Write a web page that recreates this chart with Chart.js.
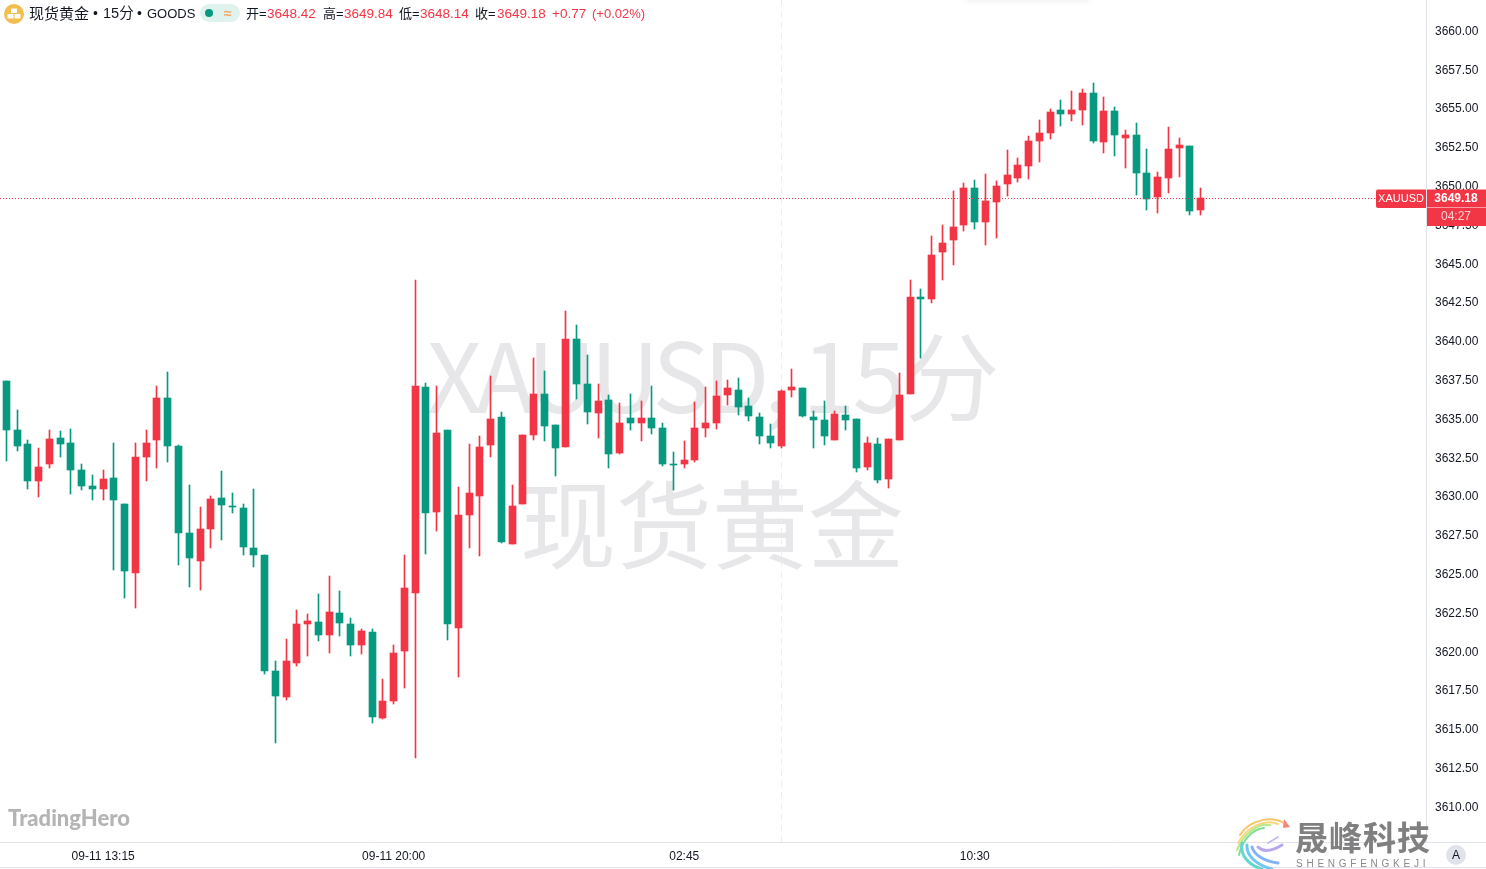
<!DOCTYPE html>
<html>
<head>
<meta charset="utf-8">
<title>XAUUSD 15分</title>
<script src="https://cdn.jsdelivr.net/npm/chart.js@4/dist/chart.umd.min.js"></script>
<style>
    html, body { margin: 0; padding: 0; background: #fff; overflow: hidden; }
    #stage { position: relative; width: 1486px; height: 869px; overflow: hidden;
        font-family: "Liberation Sans", "Noto Sans CJK SC", sans-serif; color: #131722; }
    #stage canvas { position: absolute; left: 0; top: 0; z-index: 1; }
    .t { position: absolute; white-space: nowrap; z-index: 2; }
    .head { top: 5px; font-size: 14px; line-height: 17px; }
    .val { color: #f23645; font-size: 13.5px; }
    .key { font-size: 13px; }
    .mark { position: absolute; white-space: nowrap; z-index: 0; color: #e7e7e9;
        font-family: "Noto Sans CJK SC", sans-serif; font-size: 96px; line-height: 110px; }
</style>
</head>
<body>
<div id="stage">
    <div class="mark" style="left:427px;top:317px"><span style="letter-spacing:-6px">XAUUSD,</span><span style="position:absolute;left:375px;letter-spacing:-2.5px">15分</span></div>
    <div class="mark" style="left:520px;top:465px">现货黄金</div>
    <div class="t" style="left:965px;top:-6px;width:125px;height:6px;box-shadow:0 1px 6px rgba(0,0,0,0.07)"></div>

    <svg class="t" style="left:4px;top:4px" width="20" height="20" viewBox="0 0 20 20">
        <circle cx="10" cy="10" r="10" fill="#f2be4e"/>
        <rect x="7" y="4.5" width="6" height="4.5" fill="#fff"/>
        <rect x="3.5" y="10" width="6" height="4.5" fill="#fff"/>
        <rect x="10.5" y="10" width="6" height="4.5" fill="#fff"/>
    </svg>
    <span class="t head" style="left:29px;font-size:15px">现货黄金</span>
    <span class="t head" style="left:93px">•</span>
    <span class="t head" style="left:103px;font-size:14.5px">15分</span>
    <span class="t head" style="left:137px">•</span>
    <span class="t head" style="left:147px;font-size:13px">GOODS</span>
    <div class="t" style="left:200px;top:4px;width:40px;height:18px;border-radius:9px;background:#dff2ee"></div>
    <div class="t" style="left:205px;top:9px;width:8px;height:8px;border-radius:4px;background:#089981"></div>
    <span class="t" style="left:224px;top:5px;font-size:14px;line-height:16px;color:#f7a35c;font-weight:bold">≈</span>

    <span class="t head key" style="left:246px">开=</span><span class="t head val" style="left:267px">3648.42</span>
    <span class="t head key" style="left:323px">高=</span><span class="t head val" style="left:344px">3649.84</span>
    <span class="t head key" style="left:399px">低=</span><span class="t head val" style="left:420px">3648.14</span>
    <span class="t head key" style="left:475px">收=</span><span class="t head val" style="left:497px">3649.18</span>
    <span class="t head val" style="left:552px">+0.77</span>
    <span class="t head val" style="left:592px;font-size:13px">(+0.02%)</span>

    <span class="t" style="left:8px;top:804px;font-family:Lato,sans-serif;font-weight:900;font-size:22px;line-height:28px;color:#b4b4b4">TradingHero</span>

    <svg class="t" style="left:1234px;top:817px" width="56" height="52" viewBox="0 0 56 52" fill="none" stroke-linecap="round">
        <path d="M50 6 C38 -1 16 2 6 18" stroke="#f7c66b" stroke-width="2"/>
        <path d="M44 7 C32 2 14 8 4 26" stroke="#f9d77e" stroke-width="2"/>
        <path d="M36 8 C24 6 10 16 3 33" stroke="#b8e986" stroke-width="2"/>
        <path d="M30 11 C18 12 8 24 5 38" stroke="#7fdc9a" stroke-width="2"/>
        <path d="M8 26 C6 38 14 48 28 52" stroke="#67d6d0" stroke-width="3"/>
        <path d="M13 28 C12 38 22 48 38 52" stroke="#70c6f2" stroke-width="3"/>
        <path d="M18 30 C20 38 30 44 44 46" stroke="#7fb4f5" stroke-width="3"/>
        <path d="M24 30 C30 36 38 34 48 28" stroke="#b7a7f0" stroke-width="3"/>
        <path d="M34 26 L44 20" stroke="#c9b7f5" stroke-width="2"/>
        <path d="M50 2 L56 10 L49 11 Z" fill="#f7837a" stroke="none"/>
    </svg>
    <span class="t" style="left:1295px;top:815px;font-family:'Noto Sans CJK SC',sans-serif;font-weight:700;font-size:33px;line-height:42px;letter-spacing:1px;color:#808080">晟峰科技</span>
    <span class="t" style="left:1296px;top:858px;font-size:10px;line-height:12px;letter-spacing:3.75px;color:#8a8a8a">SHENGFENGKEJI</span>

    <div class="t" style="left:1446px;top:845px;width:20px;height:20px;border-radius:10px;background:#e0e3eb;text-align:center;font-size:12px;line-height:20px">A</div>

    <canvas id="goldChart" width="1486" height="869"></canvas>
</div>

<script>
// Candles, left to right
const opens = [
    3637.42, 3634.26, 3633.36, 3630.97, 3632.07, 3633.74, 3633.42, 3631.68, 3630.65, 3630.46,
    3631.17, 3629.49, 3625.05, 3632.52, 3633.61, 3636.32, 3633.23, 3627.62, 3625.82, 3627.88,
    3629.88, 3629.36, 3629.23, 3626.66, 3626.21, 3618.73, 3617.06, 3619.25, 3621.76, 3621.89,
    3621.05, 3622.47, 3621.76, 3620.41, 3621.24, 3615.70, 3616.80, 3620.02, 3623.76, 3637.03,
    3628.98, 3634.26, 3621.50, 3628.78, 3630.01, 3633.29, 3635.10, 3626.91, 3629.49, 3633.94,
    3636.58, 3634.58, 3633.16, 3640.12, 3637.22, 3635.35, 3636.19, 3632.78, 3635.03, 3634.71,
    3635.03, 3634.39, 3632.07, 3632.07, 3632.33, 3634.39, 3634.71, 3636.51, 3636.84, 3635.80,
    3635.10, 3633.87, 3633.23, 3636.84, 3636.96, 3635.10, 3634.90, 3633.61, 3635.23, 3634.97,
    3631.87, 3633.36, 3631.10, 3633.61, 3636.58, 3642.83, 3642.70, 3645.73, 3646.50, 3647.47,
    3649.85, 3647.66, 3648.95, 3650.11, 3650.50, 3651.27, 3652.88, 3653.40, 3654.88, 3654.62,
    3654.88, 3655.97, 3652.82, 3654.81, 3653.07, 3653.27, 3650.82, 3649.27, 3650.50, 3652.43,
    3652.56, 3648.42
];
const highs = [
    3637.42, 3635.55, 3633.61, 3633.10, 3634.26, 3634.19, 3634.32, 3632.07, 3631.36, 3631.68,
    3633.42, 3629.49, 3633.42, 3634.26, 3637.09, 3638.00, 3633.29, 3630.72, 3629.30, 3630.01,
    3631.62, 3630.20, 3629.49, 3630.46, 3626.21, 3619.37, 3620.79, 3622.66, 3622.40, 3623.69,
    3624.85, 3623.89, 3622.15, 3621.44, 3621.44, 3618.22, 3620.41, 3626.21, 3643.92, 3637.29,
    3637.09, 3634.26, 3630.59, 3633.36, 3633.87, 3637.74, 3635.42, 3630.72, 3633.94, 3638.90,
    3638.06, 3634.58, 3641.93, 3641.02, 3639.09, 3637.22, 3636.51, 3636.00, 3636.58, 3636.13,
    3637.09, 3634.71, 3632.84, 3633.55, 3636.06, 3637.03, 3637.42, 3637.48, 3637.61, 3636.32,
    3635.35, 3634.65, 3636.84, 3638.19, 3636.96, 3635.48, 3636.13, 3635.48, 3635.80, 3634.97,
    3633.81, 3633.74, 3633.68, 3637.93, 3643.92, 3643.34, 3646.76, 3647.47, 3649.66, 3650.17,
    3650.37, 3650.75, 3650.30, 3652.30, 3651.78, 3653.20, 3654.23, 3654.94, 3655.52, 3656.10,
    3656.23, 3656.62, 3655.72, 3655.07, 3653.59, 3654.04, 3652.36, 3650.88, 3653.78, 3653.07,
    3652.56, 3649.84
];
const lows = [
    3632.26, 3632.91, 3630.46, 3629.94, 3631.81, 3632.52, 3630.13, 3630.39, 3629.75, 3629.75,
    3625.24, 3623.43, 3622.79, 3630.97, 3631.81, 3632.20, 3625.56, 3624.14, 3623.95, 3626.66,
    3627.17, 3628.91, 3626.21, 3625.43, 3618.54, 3614.09, 3616.86, 3619.05, 3619.70, 3620.66,
    3619.89, 3620.99, 3619.70, 3619.83, 3615.38, 3615.64, 3616.60, 3617.64, 3613.13, 3626.27,
    3627.75, 3620.73, 3618.34, 3626.66, 3626.14, 3632.52, 3626.98, 3626.91, 3629.49, 3633.61,
    3633.55, 3631.30, 3633.16, 3636.26, 3634.65, 3633.74, 3631.81, 3632.71, 3634.26, 3633.55,
    3634.00, 3631.94, 3630.39, 3631.81, 3632.20, 3633.81, 3634.32, 3635.87, 3635.23, 3634.84,
    3633.36, 3633.10, 3633.10, 3636.39, 3635.10, 3633.10, 3633.29, 3633.61, 3634.26, 3631.55,
    3631.68, 3630.84, 3630.52, 3633.61, 3636.58, 3638.90, 3642.44, 3643.92, 3644.89, 3647.08,
    3647.21, 3646.18, 3646.63, 3649.34, 3650.24, 3650.43, 3651.53, 3653.01, 3653.85, 3654.17,
    3653.91, 3652.75, 3652.11, 3651.91, 3651.14, 3649.40, 3648.43, 3648.24, 3649.53, 3650.56,
    3648.11, 3648.14
];
const closes = [
    3634.26, 3633.23, 3630.97, 3631.87, 3633.68, 3633.36, 3631.68, 3630.65, 3630.46, 3631.10,
    3629.75, 3625.17, 3632.52, 3633.42, 3636.32, 3633.23, 3627.62, 3626.01, 3627.88, 3629.81,
    3629.43, 3629.30, 3626.72, 3626.21, 3618.73, 3617.12, 3619.37, 3621.76, 3621.95, 3621.05,
    3622.53, 3621.82, 3620.41, 3621.31, 3615.77, 3616.80, 3619.89, 3624.08, 3637.09, 3628.91,
    3634.07, 3621.76, 3628.78, 3630.20, 3633.16, 3634.97, 3627.04, 3629.36, 3633.94, 3636.58,
    3634.52, 3633.10, 3640.12, 3637.22, 3635.42, 3636.13, 3632.71, 3634.71, 3634.71, 3635.03,
    3634.39, 3632.07, 3632.00, 3632.33, 3634.39, 3634.71, 3636.45, 3636.96, 3635.74, 3635.16,
    3633.87, 3633.42, 3636.77, 3637.03, 3635.16, 3634.90, 3633.87, 3635.29, 3634.90, 3631.81,
    3633.42, 3631.04, 3633.68, 3636.51, 3642.83, 3642.70, 3645.53, 3646.31, 3647.34, 3649.85,
    3647.66, 3649.01, 3649.98, 3650.69, 3651.33, 3652.88, 3653.40, 3654.75, 3654.62, 3654.88,
    3655.97, 3652.88, 3654.81, 3653.27, 3653.27, 3650.82, 3649.14, 3650.56, 3652.36, 3652.62,
    3648.37, 3649.18
];

const priceTicks = [
    3610, 3612.5, 3615, 3617.5, 3620, 3622.5, 3625, 3627.5, 3630, 3632.5, 3635,
    3637.5, 3640, 3642.5, 3645, 3647.5, 3650, 3652.5, 3655, 3657.5, 3660
];
const timeTicks = [9, 36, 63, 90];
const timeLabels = ['09-11 13:15', '09-11 20:00', '02:45', '10:30'];
const sessionBreak = 72;

const UP = '#f23645';
const DOWN = '#089981';
const LINE = '#e0e3eb';
const TEXT = '#131722';
const FONT = '"Liberation Sans", sans-serif';

const wicks = highs.map((h, i) => ({ x: i, y: [lows[i], h] }));
const bodies = opens.map((o, i) => ({ x: i, y: [o, closes[i]] }));
const colors = opens.map((o, i) => (closes[i] >= o ? UP : DOWN));

// Line bars up with the pixel grid so wicks stay one crisp pixel wide
const snapBars = {
    id: 'snapBars',
    afterDatasetsUpdate(chart) {
        chart.data.datasets.forEach((ds, i) => {
            chart.getDatasetMeta(i).data.forEach(bar => {
                bar.x = Math.floor(bar.x) + 0.5;
                bar.y = Math.round(bar.y);
                bar.base = Math.round(bar.base);
            });
        });
    }
};

// Session break, last price line, axis frame and price tags
const overlays = {
    id: 'overlays',
    beforeDatasetsDraw(chart) {
        const ctx = chart.ctx;
        const x = Math.floor(chart.scales.x.getPixelForValue(sessionBreak)) + 0.5;
        ctx.save();
        ctx.strokeStyle = '#eceef2';
        ctx.setLineDash([6, 5]);
        ctx.beginPath();
        ctx.moveTo(x, 0);
        ctx.lineTo(x, chart.chartArea.bottom);
        ctx.stroke();
        ctx.restore();
    },
    afterDraw(chart) {
        const ctx = chart.ctx;
        const last = closes[closes.length - 1];
        const y = Math.floor(chart.scales.y.getPixelForValue(last)) + 0.5;
        ctx.save();

        ctx.strokeStyle = UP;
        ctx.setLineDash([1, 2]);
        ctx.beginPath();
        ctx.moveTo(0, y);
        ctx.lineTo(1376, y);
        ctx.stroke();
        ctx.setLineDash([]);

        ctx.strokeStyle = LINE;
        ctx.beginPath();
        ctx.moveTo(0, 842.5);
        ctx.lineTo(1486, 842.5);
        ctx.moveTo(0, 867.5);
        ctx.lineTo(1486, 867.5);
        ctx.stroke();

        ctx.fillStyle = UP;
        ctx.beginPath();
        ctx.roundRect(1376, 189.5, 50, 18.5, [2, 0, 0, 2]);
        ctx.fill();
        ctx.fillRect(1427, 189.5, 59, 18);
        ctx.fillRect(1427, 208, 59, 18);

        ctx.textAlign = 'center';
        ctx.textBaseline = 'middle';
        ctx.font = '11px ' + FONT;
        ctx.fillStyle = '#fff';
        ctx.fillText('XAUUSD', 1401, 199);
        ctx.font = 'bold 12px ' + FONT;
        ctx.fillText(last.toFixed(2), 1456, 199);
        ctx.font = '12px ' + FONT;
        ctx.fillStyle = '#fbd0d4';
        ctx.fillText('04:27', 1456, 217);

        ctx.restore();
    }
};

new Chart(document.getElementById('goldChart'), {
    type: 'bar',
    data: {
        datasets: [
            { data: wicks, backgroundColor: colors, barThickness: 1, grouped: false, borderWidth: 0 },
            { data: bodies, backgroundColor: colors, barThickness: 7, grouped: false, borderWidth: 0 }
        ]
    },
    options: {
        responsive: false,
        animation: false,
        events: [],
        layout: { padding: 0 },
        plugins: {
            legend: { display: false },
            tooltip: { enabled: false }
        },
        scales: {
            x: {
                type: 'linear',
                offset: false,
                min: -0.5901,
                max: 131.94,
                grid: { display: false, drawTicks: false },
                border: { display: false },
                afterFit: scale => {
                    scale.height = 27;
                    scale.paddingLeft = 0;
                    scale.paddingRight = 0;
                },
                afterBuildTicks: scale => { scale.ticks = timeTicks.map(v => ({ value: v })); },
                ticks: {
                    autoSkip: false,
                    maxRotation: 0,
                    padding: 7,
                    color: TEXT,
                    font: { family: FONT, size: 12 },
                    callback: value => timeLabels[timeTicks.indexOf(value)]
                }
            },
            y: {
                position: 'right',
                min: 3607.713,
                max: 3661.965,
                grid: { display: false, drawTicks: false },
                border: { display: true, color: LINE },
                afterFit: scale => {
                    scale.width = 60;
                    scale.paddingTop = 0;
                    scale.paddingBottom = 0;
                },
                afterBuildTicks: scale => { scale.ticks = priceTicks.map(v => ({ value: v })); },
                ticks: {
                    autoSkip: false,
                    padding: 9,
                    labelOffset: 1,
                    color: TEXT,
                    font: { family: FONT, size: 12 },
                    callback: value => value.toFixed(2)
                }
            }
        }
    },
    plugins: [snapBars, overlays]
});
</script>
</body>
</html>
